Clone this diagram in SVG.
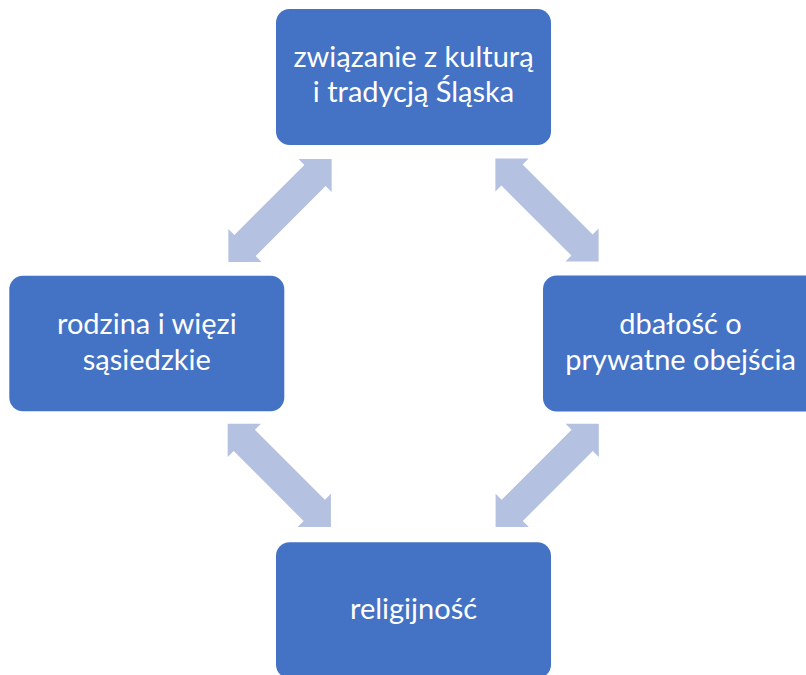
<svg xmlns="http://www.w3.org/2000/svg" width="806" height="675" viewBox="0 0 806 675">
  <defs>
    <style>
      .box { fill: #4472C4; }
      .lbl { fill: #FFFFFF; font-family: Lato, "Open Sans", "Liberation Sans", sans-serif; font-size: 29px; text-anchor: middle; }
      .arr { fill: #B4C1E1; }
    </style>
    <polygon id="dblarrow" points="-73,0 -49.5,-23.5 -49.5,-15 49.5,-15 49.5,-23.5 73,0 49.5,23.5 49.5,15 -49.5,15 -49.5,23.5"/>
  </defs>
  <rect width="806" height="675" fill="#FFFFFF"/>
  <g id="connectors">
    <use href="#dblarrow" class="arr" transform="translate(280,210.5) rotate(-45)"/>
    <use href="#dblarrow" class="arr" transform="translate(547,210) rotate(45)"/>
    <use href="#dblarrow" class="arr" transform="translate(279.3,475.4) rotate(45)"/>
    <use href="#dblarrow" class="arr" transform="translate(547.2,475.4) rotate(-45)"/>
  </g>
  <g id="node-top">
    <rect class="box" x="276" y="9" width="275" height="136" rx="13.6"/>
    <text class="lbl" x="413.5" y="66.7">związanie z kulturą</text>
    <text class="lbl" x="413.5" y="101.7">i tradycją Śląska</text>
  </g>
  <g id="node-left">
    <rect class="box" x="9.3" y="275.7" width="275" height="135.5" rx="13.6"/>
    <text class="lbl" x="146.8" y="334">rodzina i więzi</text>
    <text class="lbl" x="146.8" y="369.5">sąsiedzkie</text>
  </g>
  <g id="node-right">
    <rect class="box" x="543" y="275.5" width="275" height="136" rx="13.6"/>
    <text class="lbl" x="680.5" y="334">dbałość o</text>
    <text class="lbl" x="680.5" y="369.5">prywatne obejścia</text>
  </g>
  <g id="node-bottom">
    <rect class="box" x="276" y="542.3" width="275" height="136" rx="13.6"/>
    <text class="lbl" x="413.5" y="619.3">religijność</text>
  </g>
</svg>
